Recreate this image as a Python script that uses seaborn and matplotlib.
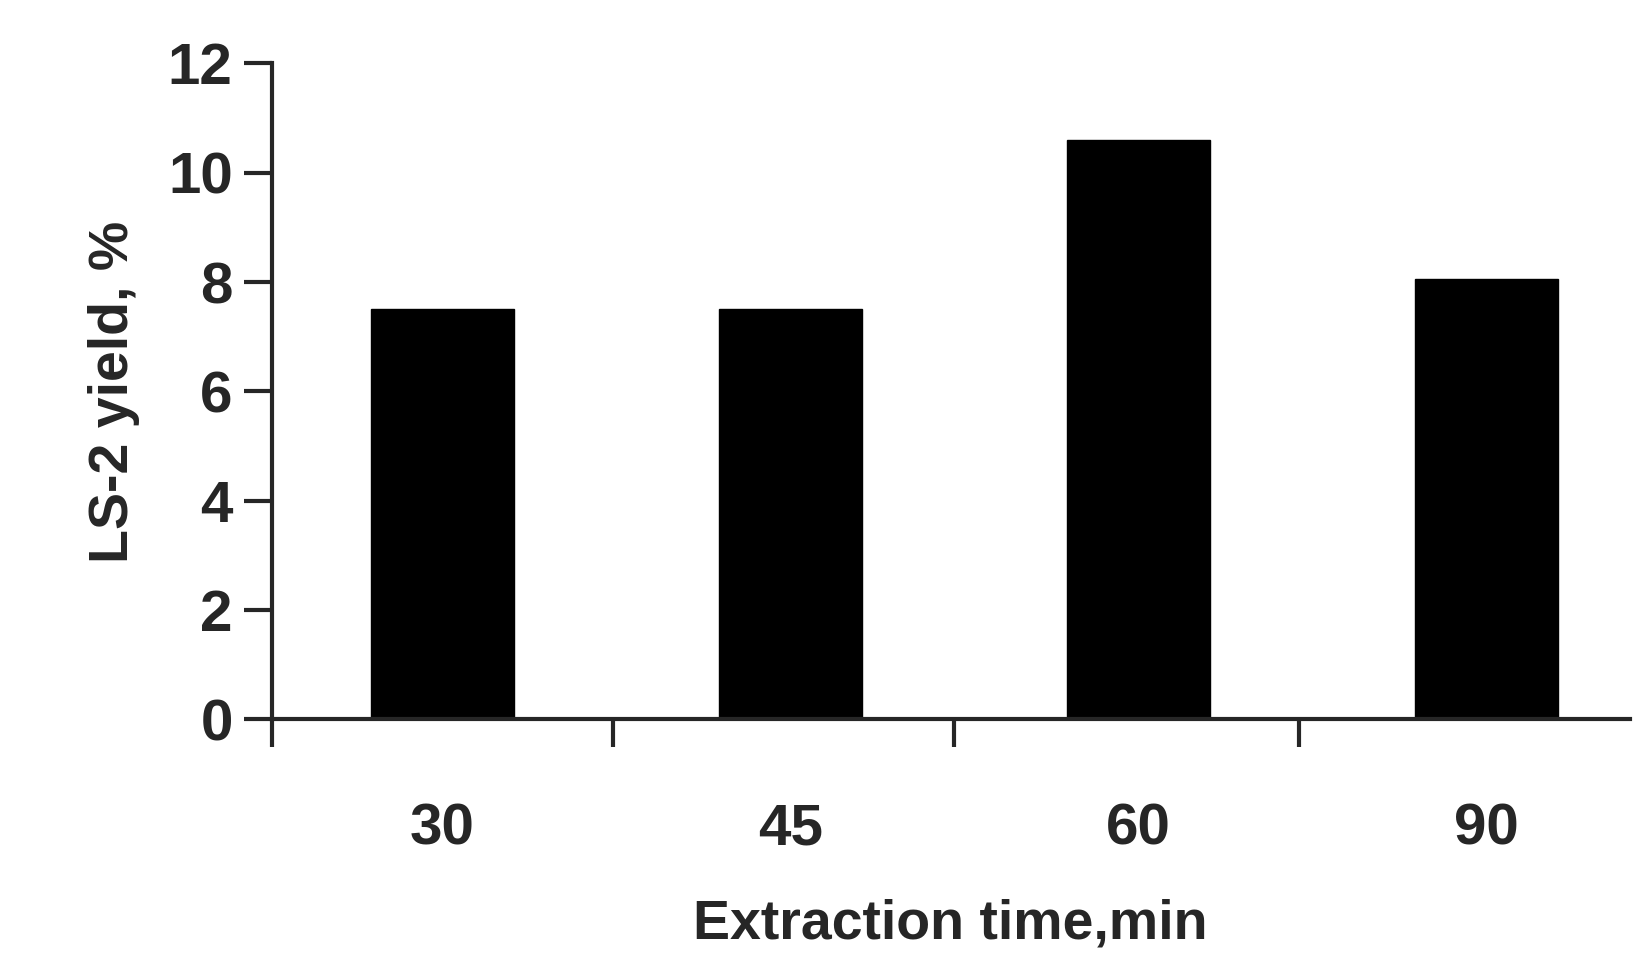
import matplotlib
matplotlib.use("Agg")
import matplotlib.pyplot as plt
import seaborn as sns
import pandas as pd

times = ["30", "45", "60", "90"]
yields = [7.5, 7.5, 10.6, 8.05]

sns.set_style("ticks")
plt.rcParams['font.family'] = ['Liberation Sans', 'DejaVu Sans']
plt.rcParams['font.weight'] = 'bold'

df = pd.DataFrame({"time": times, "yield": yields})

fig = plt.figure(figsize=(16.46, 9.76), dpi=100)
ax = fig.add_axes([0.165, 0.263, 0.825, 0.672])
sns.barplot(data=df, x="time", y="yield", color="black", width=0.41,
            saturation=1, ax=ax, edgecolor="black")

ax.set_xlim(-0.49, 3.41)
ax.set_ylim(0, 12)
ax.set_yticks(range(0, 13, 2))
ax.spines['top'].set_visible(False)
ax.spines['right'].set_visible(False)
for s in ['left', 'bottom']:
    ax.spines[s].set_linewidth(3)

# major ticks between the bars, labels at bar centres
ax.set_xticks([-0.49, 0.49, 1.47, 2.46])
ax.set_xticklabels([])
ax.set_xticks(range(4), minor=True)
ax.set_xticklabels(times, minor=True, fontsize=42, fontweight='bold')
ax.tick_params(axis='x', which='major', length=20, width=3, direction='out')
ax.tick_params(axis='x', which='minor', length=0, pad=60)
ax.tick_params(axis='y', length=20, width=3, labelsize=42, pad=8)
for lab in ax.get_yticklabels():
    lab.set_fontweight('bold')

ax.set_xlabel("Extraction time,min", fontsize=40, fontweight='bold', labelpad=30)
ax.set_ylabel("LS-2 yield, %", fontsize=40, fontweight='bold', labelpad=20)

fig.savefig("out.png", dpi=100, facecolor="white")
